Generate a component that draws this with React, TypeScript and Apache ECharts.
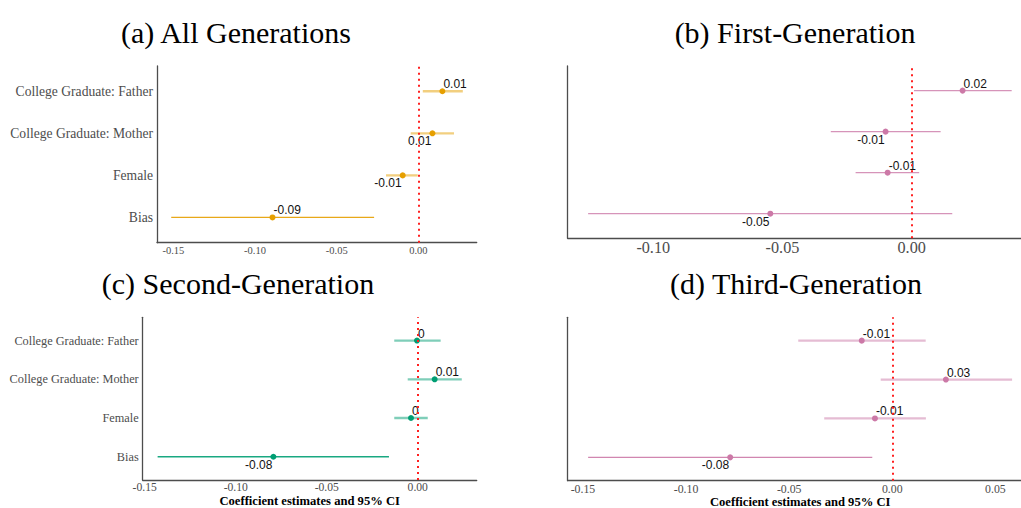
import React, { useEffect, useRef } from "react";
import * as echarts from "echarts";

// Row order from bottom (index 0) to top
const categories = ["Bias", "Female", "College Graduate: Mother", "College Graduate: Father"];
const rowPositions = [0, 1, 2, 3];

const panelTitles = ["(a) All Generations", "(b) First-Generation", "(c) Second-Generation", "(d) Third-Generation"];
const xAxisTitle = "Coefficient estimates and 95% CI";

// (a) All Generations
const estA = [-0.0893, -0.0096, 0.0086, 0.0147];
const lowA = [-0.1513, -0.0198, -0.0047, 0.0027];
const highA = [-0.0271, -0.0004, 0.0218, 0.0272];
const sideA = ["above", "below", "below", "above"];
const ticksA = [-0.15, -0.1, -0.05, 0];

// (b) First-Generation
const estB = [-0.0547, -0.0093, -0.0101, 0.0197];
const lowB = [-0.1252, -0.0217, -0.0313, 0.0009];
const highB = [0.0157, 0.0029, 0.0112, 0.0387];
const sideB = ["below", "above", "below", "above"];
const ticksB = [-0.1, -0.05, 0];

// (c) Second-Generation
const estC = [-0.0793, -0.0037, 0.0093, -0.0004];
const lowC = [-0.1429, -0.0129, -0.0055, -0.0129];
const highC = [-0.0158, 0.0055, 0.0242, 0.0126];
const sideC = ["below", "above", "above", "above"];
const ticksC = [-0.15, -0.1, -0.05, 0];

// (d) Third-Generation
const estD = [-0.0786, -0.0084, 0.026, -0.0148];
const lowD = [-0.1475, -0.033, -0.0056, -0.0456];
const highD = [-0.0097, 0.0163, 0.0581, 0.0162];
const sideD = ["below", "above", "above", "above"];
const ticksD = [-0.15, -0.1, -0.05, 0, 0.05];

const fmtEst = (v: number) => {
  const r = Math.round(v * 100) / 100;
  if (r === 0) return "0";
  return r.toFixed(2);
};

type Panel = {
  est: number[];
  low: number[];
  high: number[];
  side: string[];
  ticks: number[];
  grid: { left: number; top: number; width: number; height: number };
  xmin: number;
  xmax: number;
  color: string;
  tickFont: number;
  tickMargin: number;
  yLabels: boolean;
  yFont: number;
  thinAll: boolean;
  xName: boolean;
  titleX: number;
  titleTop: number;
};

const panels: Panel[] = [
  {
    est: estA, low: lowA, high: highA, side: sideA, ticks: ticksA,
    grid: { left: 157, top: 66, width: 319.7, height: 176.7 },
    xmin: -0.16, xmax: 0.0357, color: "#E69F00", tickFont: 10.5, tickMargin: 3,
    yLabels: true, yFont: 13.6, thinAll: false, xName: false, titleX: 231, titleTop: 12,
  },
  {
    est: estB, low: lowB, high: highB, side: sideB, ticks: ticksB,
    grid: { left: 567.7, top: 66, width: 453.3, height: 172.3 },
    xmin: -0.1331, xmax: 0.0423, color: "#CC79A7", tickFont: 16.2, tickMargin: 2,
    yLabels: false, yFont: 12, thinAll: true, xName: false, titleX: 790, titleTop: 12,
  },
  {
    est: estC, low: lowC, high: highC, side: sideC, ticks: ticksC,
    grid: { left: 142.7, top: 317.3, width: 334, height: 162.7 },
    xmin: -0.1511, xmax: 0.0324, color: "#009E73", tickFont: 11.6, tickMargin: 2,
    yLabels: true, yFont: 12.3, thinAll: false, xName: true, titleX: 233, titleTop: 263,
  },
  {
    est: estD, low: lowD, high: highD, side: sideD, ticks: ticksD,
    grid: { left: 567.7, top: 317.3, width: 465, height: 163.4 },
    xmin: -0.1574, xmax: 0.0681, color: "#CC79A7", tickFont: 11.8, tickMargin: 2,
    yLabels: false, yFont: 12, thinAll: false, xName: true, titleX: 791, titleTop: 263,
  },
];

const hexToRgba = (hex: string, a: number) => {
  const n = parseInt(hex.slice(1), 16);
  return `rgba(${(n >> 16) & 255},${(n >> 8) & 255},${n & 255},${a})`;
};

export default function App() {
  const ref = useRef<HTMLDivElement>(null);

  useEffect(() => {
    if (!ref.current) return;
    const chart = echarts.init(ref.current, undefined, { renderer: "svg" });

    const grids: any[] = [];
    const xAxes: any[] = [];
    const yAxes: any[] = [];
    const series: any[] = [];
    const titles: any[] = [];

    panels.forEach((p, i) => {
      grids.push({ ...p.grid, containLabel: false, outerBoundsMode: "none" });
      titles.push({
        text: panelTitles[i],
        left: p.titleX,
        top: p.titleTop,
        textAlign: "center",
        textStyle: { fontFamily: "Liberation Serif", fontSize: 30, fontWeight: "normal", color: "#000" },
      });
      xAxes.push({
        type: "value",
        gridIndex: i,
        min: p.xmin,
        max: p.xmax,
        axisLine: { show: true, onZero: false, lineStyle: { color: "#4d4d4d", width: 1.3 } },
        axisTick: { show: false },
        splitLine: { show: false },
        axisLabel: {
          customValues: p.ticks,
          formatter: (v: number) => v.toFixed(2),
          fontFamily: "Liberation Serif",
          fontSize: p.tickFont,
          color: "#4d4d4d",
          margin: p.tickMargin,
          lineHeight: p.tickFont,
        },
        name: p.xName ? xAxisTitle : "",
        nameLocation: "middle",
        nameGap: 15,
        nameMoveOverlap: false,
        nameTextStyle: {
          fontFamily: "Liberation Serif",
          fontSize: 12.6,
          fontWeight: "bold",
          color: "#000",
          lineHeight: 12,
        },
      });
      yAxes.push({
        type: "value",
        gridIndex: i,
        min: -0.6,
        max: 3.6,
        axisLine: { show: true, onZero: false, lineStyle: { color: "#4d4d4d", width: 1.3 } },
        axisTick: { show: false },
        splitLine: { show: false },
        axisLabel: {
          show: p.yLabels,
          customValues: rowPositions,
          formatter: (v: number) => categories[Math.round(v)] ?? "",
          fontFamily: "Liberation Serif",
          fontSize: p.yFont,
          color: "#4d4d4d",
          margin: 4,
        },
      });

      series.push({
        type: "custom",
        xAxisIndex: i,
        yAxisIndex: i,
        data: rowPositions.map((r, k) => [p.low[k], p.high[k], r]),
        encode: { x: [0, 1], y: 2 },
        renderItem: (params: any, api: any) => {
          const a = api.coord([api.value(0), api.value(2)]);
          const b = api.coord([api.value(1), api.value(2)]);
          const idx = params.dataIndex;
          const thin = p.thinAll || idx === 0;
          return {
            type: "line",
            shape: { x1: a[0], y1: a[1], x2: b[0], y2: b[1] },
            style: {
              stroke: thin ? hexToRgba(p.color, p.thinAll ? 0.8 : 0.9) : hexToRgba(p.color, 0.5),
              lineWidth: thin ? 1.3 : 2.3,
            },
          };
        },
        z: 2,
      });

      series.push({
        type: "scatter",
        xAxisIndex: i,
        yAxisIndex: i,
        symbolSize: 6,
        itemStyle: { color: p.color, opacity: 1 },
        data: rowPositions.map((r, k) => ({
          value: [p.est[k], r],
          label:
            p.side[k] === "above"
              ? { position: "right", distance: 0, offset: [-2, -7] }
              : { position: "left", distance: 0, offset: [2, 8] },
        })),
        label: {
          show: true,
          formatter: (q: any) => fmtEst(q.value[0]),
          fontFamily: "Liberation Sans",
          fontSize: 12,
          color: "#111",
        },
        markLine: {
          silent: true,
          symbol: ["none", "none"],
          label: { show: false },
          lineStyle: { color: "#FF2020", type: [2, 4], width: 2 },
          data: [{ xAxis: 0 }],
        },
        z: 3,
      });
    });

    chart.setOption({
      animation: false,
      backgroundColor: "#ffffff",
      title: titles,
      grid: grids,
      xAxis: xAxes,
      yAxis: yAxes,
      series,
    });

    return () => chart.dispose();
  }, []);

  return <div ref={ref} style={{ position: "absolute", left: 0, top: 0, width: 1021, height: 508 }} />;
}
